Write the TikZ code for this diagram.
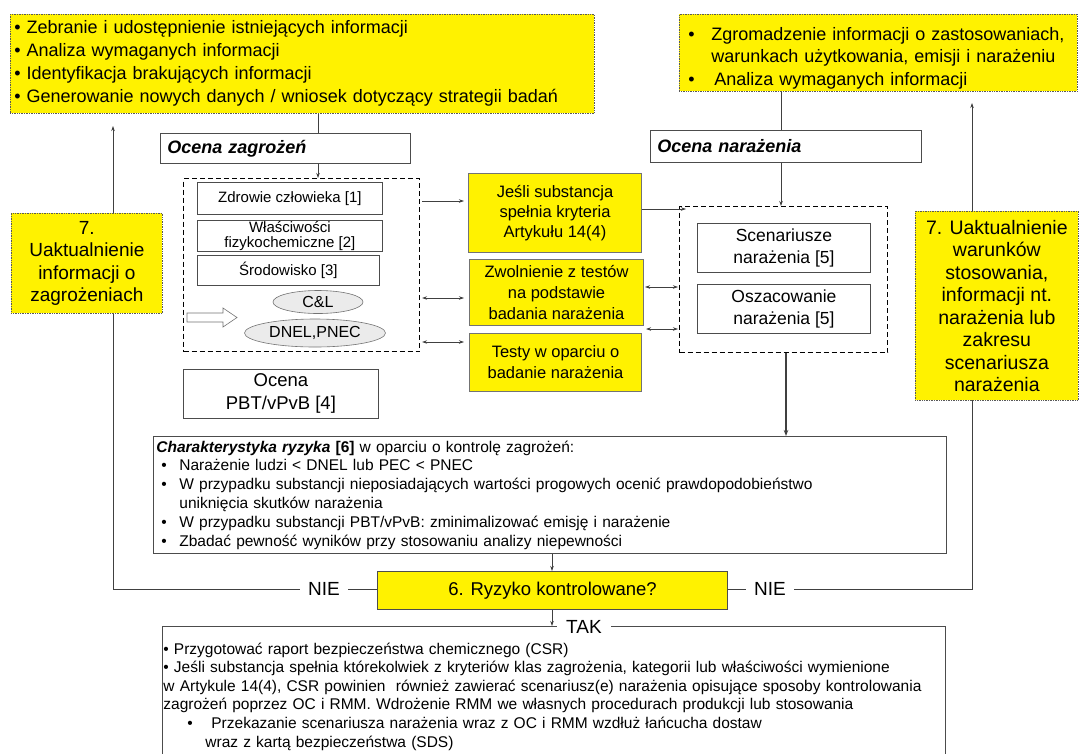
\documentclass[tikz,border=0pt]{standalone}
\usepackage{fontspec}
\setmainfont{Liberation Sans}
\usetikzlibrary{arrows.meta,shapes.geometric}
\pgfdeclarelayer{bg}
\pgfsetlayers{bg,main}
\newcommand{\fsz}[2]{\fontsize{#1}{#2}\selectfont}
\begin{document}
\begin{tikzpicture}[x=1pt,y=-1pt,
  ydot/.style={fill=yellow, draw=black!65, densely dotted, line width=0.7pt, inner sep=0pt, align=center},
  ysol/.style={fill=yellow, draw=black!55, line width=1pt, inner sep=0pt, align=center},
  wbox/.style={fill=white, draw=black!70, line width=0.8pt, inner sep=0pt, align=center},
  dbox/.style={draw=black, dash pattern=on 5pt off 3pt, line width=1.1pt, inner sep=0pt},
  ell/.style={ellipse, fill=black!8, draw=black!55, line width=0.6pt, inner sep=0pt},
  conn/.style={draw=black!75, line width=0.7pt},
  arr/.style={conn, -{Stealth[length=5pt,width=3.5pt]}},
  darr/.style={conn, {Stealth[length=5pt,width=3.5pt]}-{Stealth[length=5pt,width=3.5pt]}},
  lbl/.style={inner sep=2pt, font=\fsz{19}{22}},
]
\useasboundingbox (0,0) rectangle (1083,753);

% top boxes
\node[ydot, anchor=north west, minimum width=584, minimum height=99, text width=576, align=left, font=\fsz{18}{23}] (tl) at (10,14)
 {• Zebranie i udostępnienie istniejących informacji\\
  • Analiza wymaganych informacji\\
  • Identyfikacja brakujących informacji\\
  • Generowanie nowych danych / wniosek dotyczący strategii badań};
\node[ydot, anchor=north west, minimum width=398, minimum height=77, text width=390, align=left, font=\fsz{18}{22.5}] (tr) at (679,14)
 {\rule{0pt}{24pt}\hspace*{5pt}\makebox[23pt][l]{•}Zgromadzenie informacji o zastosowaniach,\\
  \hspace*{28pt}warunkach użytkowania, emisji i narażeniu\\
  \hspace*{5pt}\makebox[26pt][l]{•}Analiza wymaganych informacji};

% headers
\node[wbox, anchor=north west, minimum width=250, minimum height=30, text width=236, align=left, font=\fsz{18}{20}\bfseries\itshape] (oz) at (160,133) {Ocena zagrożeń};
\node[wbox, anchor=north west, minimum width=271, minimum height=32, text width=257, align=left, font=\fsz{18}{20}\bfseries\itshape] (on) at (650,130) {Ocena narażenia};

% left dashed group
\node[dbox, anchor=north west, minimum width=236, minimum height=173] (dl) at (183,178) {};
\node[wbox, anchor=north west, minimum width=185, minimum height=32, font=\fsz{15}{17}] (z1) at (197,182) {Zdrowie człowieka [1]};
\node[wbox, anchor=north west, minimum width=185, minimum height=31, font=\fsz{15}{15}] (z2) at (197,220) {Właściwości\\fizykochemiczne [2]};
\node[wbox, anchor=north west, minimum width=182, minimum height=30, font=\fsz{15}{17}] (z3) at (197,255) {Środowisko [3]};
\node[ell, minimum width=90, minimum height=23, font=\fsz{16}{18}] (cl) at (318,302) {C\&L};
\node[ell, minimum width=141, minimum height=28, font=\fsz{16}{18}] (dn) at (315,333) {DNEL,PNEC};
\draw[fill=white, draw=black!55, line width=0.6pt] (187,313) -- (223,313) -- (223,308) -- (237,317.5) -- (223,327) -- (223,322) -- (187,322) -- cycle;

\node[wbox, anchor=north west, minimum width=195, minimum height=49, font=\fsz{18.5}{23}] (pbt) at (183,369) {Ocena\\PBT/vPvB [4]};

% side yellow boxes
\node[ydot, anchor=north west, minimum width=151, minimum height=100, font=\fsz{19}{22.5}] (ly) at (11,213) {7.\\Uaktualnienie\\informacji o\\zagrożeniach};
\node[ydot, anchor=north west, minimum width=163, minimum height=189, font=\fsz{19.5}{22.5}] (ry) at (915,211) {7. Uaktualnienie\\warunków\\stosowania,\\informacji nt.\\narażenia lub\\zakresu\\scenariusza\\narażenia};

% middle yellow boxes
\node[ysol, anchor=north west, minimum width=173, minimum height=79, font=\fsz{16.5}{20}] (m1) at (468,173) {Jeśli substancja\\spełnia kryteria\\Artykułu 14(4)};
\node[ysol, anchor=north west, minimum width=174, minimum height=66, font=\fsz{16.5}{21}] (m2) at (469,259) {Zwolnienie z testów\\na podstawie\\badania narażenia};
\node[ysol, anchor=north west, minimum width=172, minimum height=58, font=\fsz{16.5}{21}] (m3) at (469,333) {Testy w oparciu o\\badanie narażenia};

% right dashed group
\node[dbox, anchor=north west, minimum width=208, minimum height=146] (dr) at (679,206) {};
\node[wbox, anchor=north west, minimum width=173, minimum height=49, font=\fsz{17.5}{22}] (s1) at (697,223) {Scenariusze\\narażenia [5]};
\node[wbox, anchor=north west, minimum width=173, minimum height=49, font=\fsz{17.5}{22}] (s2) at (697,284) {Oszacowanie\\narażenia [5]};

% risk characterisation
\node[wbox, anchor=north west, minimum width=793, minimum height=117, text width=787, align=left, font=\fsz{15.5}{18.8}] (ch) at (153,436)
 {\textbf{\textit{Charakterystyka ryzyka}} \textbf{[6]} w oparciu o kontrolę zagrożeń:\\
  \hspace*{5pt}\makebox[18pt][l]{•}Narażenie ludzi < DNEL lub PEC < PNEC\\
  \hspace*{5pt}\makebox[18pt][l]{•}W przypadku substancji nieposiadających wartości progowych ocenić prawdopodobieństwo\\
  \hspace*{23pt}uniknięcia skutków narażenia\\
  \hspace*{5pt}\makebox[18pt][l]{•}W przypadku substancji PBT/vPvB: zminimalizować emisję i narażenie\\
  \hspace*{5pt}\makebox[18pt][l]{•}Zbadać pewność wyników przy stosowaniu analizy niepewności};

\node[ysol, draw=black!70, anchor=north west, minimum width=350, minimum height=38, font=\fsz{18.5}{20}] (rk) at (377,571) {6. Ryzyko kontrolowane?};

\node[wbox, anchor=north west, minimum width=783, minimum height=140, text width=781, align=left, font=\fsz{15.5}{18.6}] (bb) at (162,626)
 {• Przygotować raport bezpieczeństwa chemicznego (CSR)\\
  • Jeśli substancja spełnia którekolwiek z kryteriów klas zagrożenia, kategorii lub właściwości wymienione\\
  w Artykule 14(4), CSR powinien\ \ również zawierać scenariusz(e) narażenia opisujące sposoby kontrolowania\\
  zagrożeń poprzez OC i RMM. Wdrożenie RMM we własnych procedurach produkcji lub stosowania\\
  \hspace*{24pt}\makebox[24pt][l]{•}Przekazanie scenariusza narażenia wraz z OC i RMM wzdłuż łańcucha dostaw\\
  \hspace*{42pt}wraz z kartą bezpieczeństwa (SDS)};
\node[lbl, fill=white, inner xsep=9pt] (tak) at (584,627) {TAK};

\node[lbl, inner xsep=8pt] (nieL) at (324,589) {NIE};
\node[lbl, inner xsep=8pt] (nieR) at (770,589) {NIE};

% helper coordinates
\coordinate (xa) at (318,0);
\coordinate (xb) at (781,0);
\coordinate (xc) at (786,0);
\coordinate (xd) at (552,0);
\coordinate (ltop) at (113,126);
\coordinate (rtop) at (972,103);
\coordinate (y1) at (0,201);
\coordinate (y2) at (0,298);
\coordinate (y3) at (0,342);
\coordinate (y4) at (0,209);
\coordinate (y5) at (0,287);
\coordinate (y6) at (0,329);

% connectors
\draw[conn] (tl.south -| xa) -- (oz.north -| xa);
\draw[arr] (oz.south -| xa) -- (dl.north -| xa);
\draw[conn] (tr.south -| xb) -- (on.north -| xb);
\draw[arr] (on.south -| xb) -- (dr.north -| xb);

\draw[arr, shorten <=2pt, shorten >=4pt] (dl.east |- y1) -- (m1.west |- y1);
\draw[darr, shorten <=2pt, shorten >=5pt] (dl.east |- y2) -- (m2.west |- y2);
\draw[darr, shorten <=2pt, shorten >=5pt] (dl.east |- y3) -- (m3.west |- y3);
\draw[arr, shorten >=-7pt] (m1.east |- y4) -- (dr.west |- y4);
\draw[darr, shorten <=1pt, shorten >=1pt] (m2.east |- y5) -- (dr.west |- y5);
\draw[darr, shorten <=2pt, shorten >=1pt] (m2.east |- y6) -- (dr.west |- y6);

\draw[conn, line width=1.4pt, -{Stealth[length=6pt,width=4.5pt]}] (dr.south -| xc) -- (ch.north -| xc);
\draw[arr] (ch.south -| xd) -- (rk.north -| xd);
\draw[arr] (rk.south -| xd) -- (bb.north -| xd);

\draw[conn] (nieL.east) -- (rk.west |- nieL.east);
\draw[conn] (rk.east |- nieR.west) -- (nieR.west);
\begin{pgfonlayer}{bg}
\draw[arr] (nieL.west) -| (ltop);
\draw[arr] (nieR.east) -| (rtop);
\end{pgfonlayer}
\end{tikzpicture}
\end{document}
